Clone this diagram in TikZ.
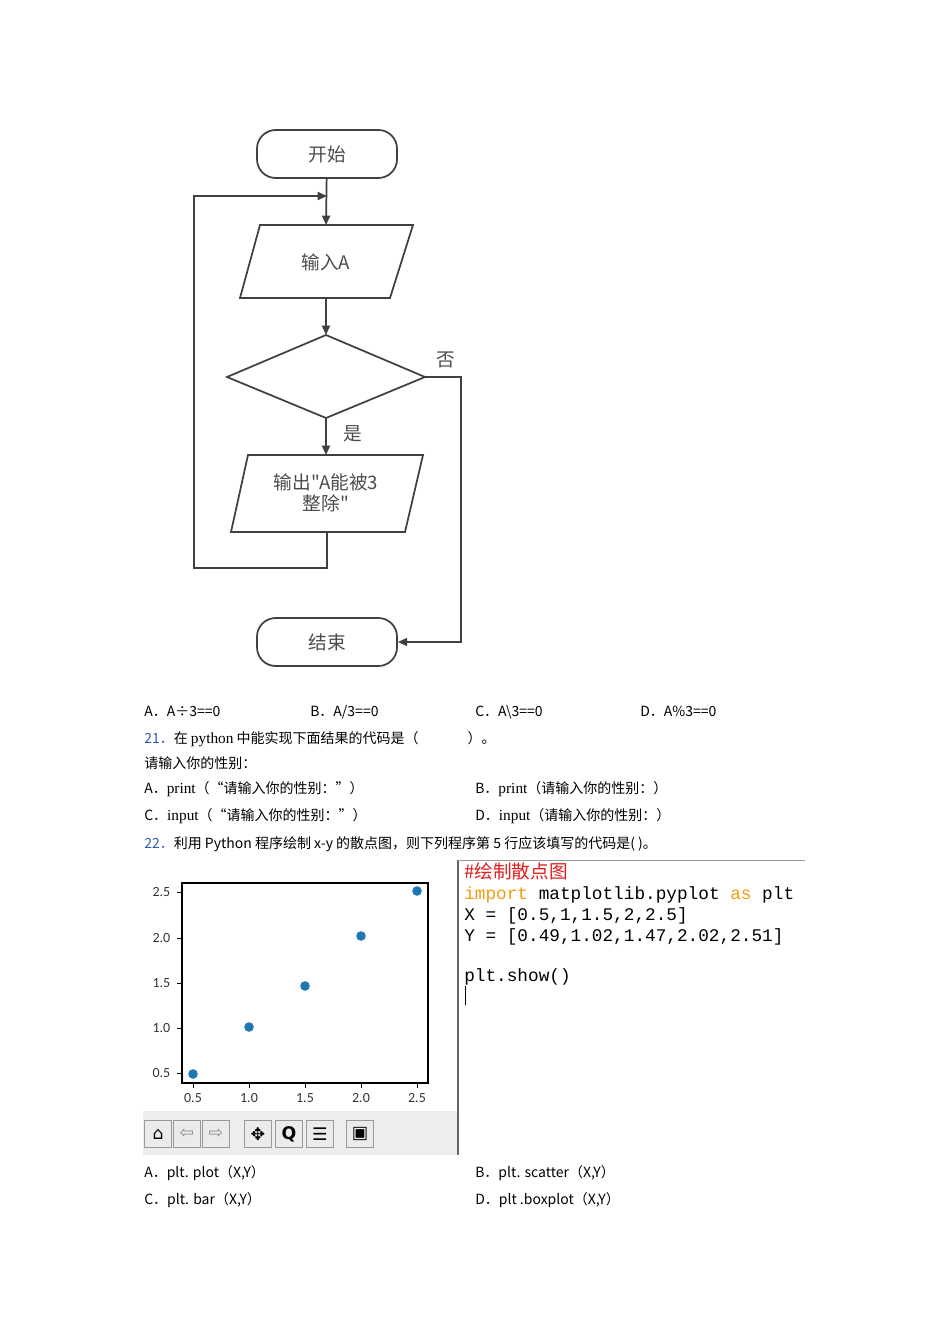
\documentclass[tikz,border=0pt]{standalone}
\usepackage{fontspec}
\setmainfont{Carlito}
\newfontfamily\cjk{Noto Sans CJK SC}
\newfontfamily\ser{Liberation Serif}
\newfontfamily\mono{Liberation Mono}
\newfontfamily\djv{DejaVu Sans}
\usetikzlibrary{arrows.meta,shapes.geometric}
\begin{document}
\begin{tikzpicture}[x=0.75pt,y=-0.75pt,
  fl/.style={draw=black!75,line width=1.3pt},
  ar/.style={fl,-{Triangle[length=7pt,width=6pt]}},
  ft/.style={font=\cjk\fontsize{14}{16}\selectfont,text=black!70},
  bt/.style={anchor=base west,font=\cjk\fontsize{10.5}{12}\selectfont,inner sep=0},
  tk/.style={font=\fontsize{10.5}{11}\selectfont,text=black!80},
  ic/.style={draw=black!40,fill=black!8,minimum width=20pt,minimum height=20pt,inner sep=0,font=\djv\fontsize{13}{13}\selectfont}]
\useasboundingbox (0,0) rectangle (950,1344);
% flowchart
\node[fl,rounded corners=14pt,minimum width=105pt,minimum height=36pt,ft] (start) at (327,154) {开始};
\path[fl] (260,225) -- (413,225) -- (390,298) -- (240,298) -- cycle;
\node[ft] (inp) at (326,262) {输入A};
\coordinate (inT) at (326,225); \coordinate (inB) at (326,298);
\path[fl] (227,377) -- (326,335) -- (425,377) -- (326,418) -- cycle;
\coordinate (dT) at (326,335); \coordinate (dB) at (326,418); \coordinate (dR) at (425,377);
\path[fl] (248,455) -- (423,455) -- (405,532) -- (231,532) -- cycle;
\node[ft,align=center] (outp) at (326,493) {输出"A能被3\\整除"};
\coordinate (oT) at (326,455); \coordinate (oB) at (327,532);
\node[fl,rounded corners=14pt,minimum width=105pt,minimum height=36pt,ft] (end) at (327,642) {结束};
\draw[ar] (start) -- (inT);
\draw[ar] (inB) -- (dT);
\draw[ar] (dB) -- (oT);
\coordinate (lp) at (327,196);
\draw[ar] (oB) -- (327,568) -- (194,568) -- (194,196) -- (lp);
\draw[ar] (dR) -- (461,377) -- (461,642) -- (end.east);
\node[ft] (no) at (446,360) {否};
\node[ft] (yes) at (353,434) {是};
% text lines
\node[bt] (t1) at (144,716) {A．A÷3==0};
\node[bt] (t2) at (310,716) {B．A/3==0};
\node[bt] (t3) at (475,716) {C．A\textbackslash 3==0};
\node[bt] (t4) at (640,716) {D．A\%3==0};
\node[bt] (q21) at (144,743) {\textcolor[HTML]{2F5FA8}{21．}在 {\ser\fontsize{11.5}{12}\selectfont python} 中能实现下面结果的代码是（\hspace{3.5em}）。};
\node[bt] (q21b) at (144,768) {请输入你的性别：};
\node[bt] (a21) at (144,793) {A．{\ser\fontsize{11.5}{12}\selectfont print}（“请输入你的性别：”）};
\node[bt] (b21) at (475,793) {B．{\ser\fontsize{11.5}{12}\selectfont print}（请输入你的性别：）};
\node[bt] (c21) at (144,820) {C．{\ser\fontsize{11.5}{12}\selectfont input}（“请输入你的性别：”）};
\node[bt] (d21) at (475,820) {D．{\ser\fontsize{11.5}{12}\selectfont input}（请输入你的性别：）};
\node[bt] (q22) at (144,848) {\textcolor[HTML]{2F5FA8}{22．}利用 Python 程序绘制 x-y 的散点图，则下列程序第 5 行应该填写的代码是( )。};
\node[bt] (a22) at (144,1177) {A．plt. plot（X,Y）};
\node[bt] (b22) at (475,1177) {B．plt. scatter（X,Y）};
\node[bt] (c22) at (144,1204) {C．plt. bar（X,Y）};
\node[bt] (d22) at (475,1204) {D．plt .boxplot（X,Y）};
% plot
\draw[black,line width=0.8pt] (182,883) rectangle (428,1083);
\foreach \v/\xx in {0.5/193,1.0/249,1.5/305,2.0/361,2.5/417}{
  \draw (\xx,1083) -- (\xx,1088);
  \node[tk] at (\xx,1098) {\v};}
\foreach \v/\yy in {0.5/1073,1.0/1028,1.5/983,2.0/938,2.5/892}{
  \draw (182,\yy) -- (177,\yy);
  \node[tk,anchor=east] at (175,\yy) {\v};}
\foreach \px/\py in {193/1074,249/1027,305/986,361/936,417/891}
  \fill[color={rgb,255:red,31;green,119;blue,180}] (\px,\py) circle (3.6pt);
% toolbar
\fill[black!7] (143,1111) rectangle (458,1155);
\node[ic] (h) at (158,1134) {⌂};
\node[ic,text=black!45] (bk) at (187,1134) {⇦};
\node[ic,text=black!45] (fw) at (216,1134) {⇨};
\node[ic] (mv) at (258,1134) {✥};
\node[ic] (zm) at (289,1134) {\bfseries Q};
\node[ic] (cf) at (320,1134) {☰};
\node[ic] (sv) at (360,1134) {▣};
% code panel
\draw[black!60,line width=1.5pt] (458,860) -- (458,1155);
\draw[black!40] (458,860) -- (805,860);
\node[anchor=base west,inner sep=0,text={rgb,255:red,220;green,30;blue,30},font=\cjk\fontsize{14}{14}\selectfont] (c1) at (464,878) {\#绘制散点图};
\begin{scope}[every node/.style={anchor=base west,inner sep=0,font=\mono\fontsize{13.3}{14}\selectfont}]
\node (c2) at (464,899) {\textcolor[HTML]{F39C12}{import} matplotlib.pyplot \textcolor[HTML]{F39C12}{as} plt};
\node (c3) at (464,920) {X = [0.5,1,1.5,2,2.5]};
\node (c4) at (464,941) {Y = [0.49,1.02,1.47,2.02,2.51]};
\node (c5) at (464,981) {plt.show()};
\end{scope}
\draw (465,986) -- (465,1005);
\end{tikzpicture}
\end{document}
